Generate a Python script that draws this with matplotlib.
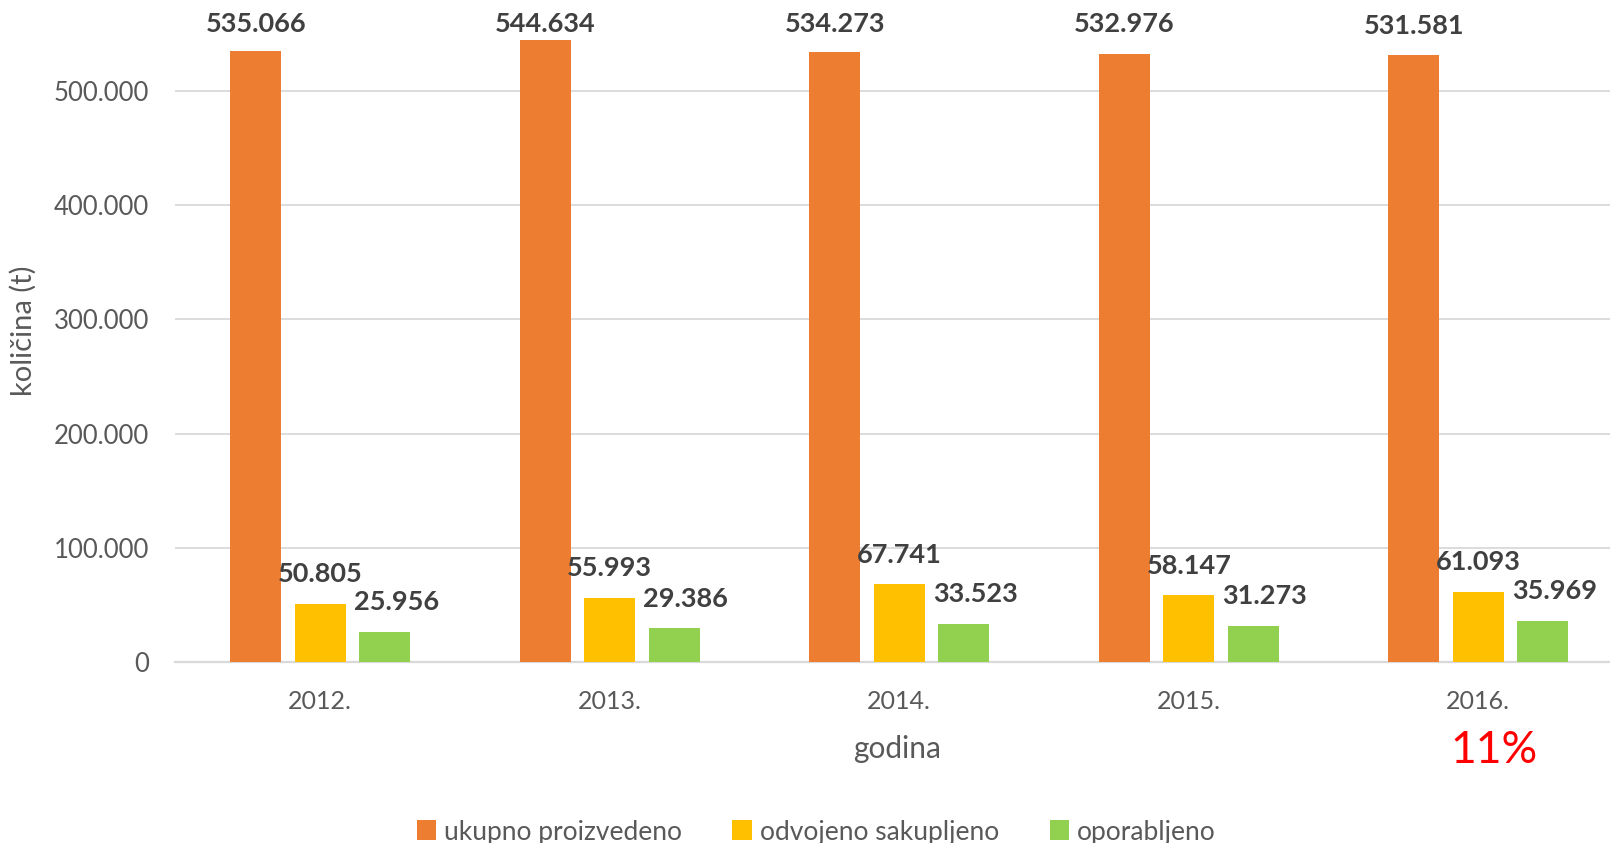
import matplotlib.pyplot as plt
import numpy as np

plt.rcParams['font.family'] = ['Lato', 'DejaVu Sans']

godine = ['2012.', '2013.', '2014.', '2015.', '2016.']
ukupno = [535066, 544634, 534273, 532976, 531581]
odvojeno = [50805, 55993, 67741, 58147, 61093]
oporabljeno = [25956, 29386, 33523, 31273, 35969]
serije = ['ukupno proizvedeno', 'odvojeno sakupljeno', 'oporabljeno']
boje = ['#ED7D31', '#FFC000', '#92D050']


def fmt(v):
    return f'{v:,}'.replace(',', '.')


fig = plt.figure(figsize=(16.1, 8.43), dpi=100)
ax = fig.add_axes([0.109, 0.215, 0.891, 0.785])

ymax = 580000
x = np.arange(len(godine))
step = 0.223
width = 0.177
label_dx = [0, 0, 0.04]
gap = 26000       # label above bar top
top_cap = 559000  # labels are kept inside the chart area

for i, (vals, boja, ime) in enumerate(zip([ukupno, odvojeno, oporabljeno], boje, serije)):
    pos = x + (i - 1) * step
    ax.bar(pos, vals, width=width, color=boja, label=ime, zorder=3)
    for px, v in zip(pos, vals):
        ax.text(px + label_dx[i], min(v + gap, top_cap), fmt(v),
                ha='center', va='center', fontsize=19.5, fontweight='bold',
                color='#404040', clip_on=False, zorder=4)

ax.set_xlim(-0.5, 4.455)
ax.set_ylim(0, ymax)
ax.set_yticks(range(0, 600000, 100000))
ax.set_yticklabels([fmt(t) for t in range(0, 600000, 100000)])
ax.set_xticks(x)
ax.set_xticklabels(godine)
ax.tick_params(axis='y', length=0, labelsize=18.5, labelcolor='#595959', pad=19)
ax.tick_params(axis='x', length=0, labelsize=18, labelcolor='#595959', pad=20)
ax.grid(axis='y', color='#D9D9D9', linewidth=1.3, zorder=0)
for s in ['top', 'right', 'left']:
    ax.spines[s].set_visible(False)
ax.spines['bottom'].set_color('#D9D9D9')
ax.spines['bottom'].set_linewidth(1.6)

ax.set_ylabel('količina (t)', fontsize=21, color='#595959')
ax.yaxis.set_label_coords(-0.097, 0.5)
ax.set_xlabel('godina', fontsize=21.5, color='#595959')
ax.xaxis.set_label_coords(0.503, -0.111)

fig.text(0.928, 0.11, '11%', fontsize=32, color='#FF0000', ha='center', va='center')

fig.legend(loc='center', bbox_to_anchor=(0.507, 0.013), ncol=3, frameon=False,
           fontsize=19, labelcolor='#595959', handlelength=0.75, handleheight=0.8,
           handletextpad=0.3, columnspacing=1.9)

fig.savefig('out.png', dpi=100)
